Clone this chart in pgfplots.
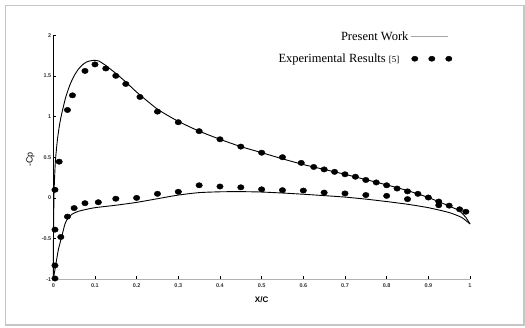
\documentclass[border=0pt]{standalone}
\usepackage{fontspec}
\setmainfont{Liberation Serif}
\setsansfont{Liberation Sans}
\usepackage{pgfplots}
\pgfplotsset{compat=1.18}
\begin{document}
\begin{tikzpicture}[x=1pt,y=1pt]
\useasboundingbox (-53.3pt,-47.7pt) rectangle (471.7pt,279.3pt);
\draw[gray!45, line width=1.5pt] (-48pt,-45.5pt) rectangle (470.5pt,274pt);
\begin{axis}[
  at={(0pt,0pt)}, anchor=south west,
  x=416.7pt, y=81.4pt,
  xmin=0, xmax=1, ymin=-1, ymax=2,
  axis lines=left,
  axis line style={-},
  x axis line style={gray!60, line width=0.9pt},
  y axis line style={black, line width=0.8pt},
  xtick={0,0.1,...,1.0001},
  ytick={-1,-0.5,0,0.5,1,1.5,2},
  tick align=inside,
  major tick length=3pt,
  tick style={black, line width=0.6pt},
  tick label style={font=\sffamily\bfseries\fontsize{5.5}{6}\selectfont, text=black!80},
  /pgf/number format/assume math mode=true,
  xticklabel style={yshift=-0.5pt},
  yticklabel style={xshift=1.5pt},
  xlabel={\textbf{X/C}},
  xlabel style={font=\sffamily\fontsize{8}{9}\selectfont, at={(axis description cs:0.5,-0.085)}, anchor=center},
  ylabel={-Cp},
  ylabel style={font=\sffamily\fontsize{9}{10}\selectfont, at={(axis description cs:-0.055,0.49)}, anchor=center, rotate=0},
  clip=false,
  legend style={at={(rel axis cs:0.965,1.032)}, anchor=north east, draw=none, fill=none,
    font=\fontsize{12.5}{13}\selectfont, row sep=8pt, cells={anchor=east}},
  legend plot pos=right,
]
\addplot[black, line width=0.9pt, smooth, tension=0.35,
  legend image code/.code={\draw[gray!70, line width=0.8pt] (0pt,0pt) -- (37pt,0pt);}]
coordinates {
(0,-1) (0.0005,-0.4) (0.002,0.1) (0.005,0.45) (0.01,0.72) (0.015,0.9) (0.02,1.03)
(0.03,1.24) (0.04,1.39) (0.05,1.50) (0.06,1.58) (0.07,1.635) (0.08,1.67) (0.09,1.685)
(0.10,1.69) (0.11,1.68) (0.125,1.63) (0.15,1.53) (0.175,1.42) (0.2,1.30) (0.25,1.09)
(0.3,0.94) (0.35,0.82) (0.4,0.72) (0.45,0.63) (0.5,0.556) (0.55,0.48) (0.6,0.41)
(0.65,0.35) (0.7,0.29) (0.75,0.225) (0.8,0.16) (0.85,0.09) (0.9,0.005) (0.95,-0.1)
(0.975,-0.16) (0.99,-0.24) (1.0,-0.32)
};
\addlegendentry{Present Work}
\addplot[only marks, mark=*, mark size=2.7pt, mark options={xscale=1.2, fill=black},
  legend image code/.code={\fill[black] (4pt,0pt) ellipse (3.2pt and 2.6pt); \fill[black] (21pt,0pt) ellipse (3.2pt and 2.6pt); \fill[black] (38pt,0pt) ellipse (3.2pt and 2.6pt);}]
coordinates {
(0.004,0.1) (0.014,0.445) (0.034,1.08) (0.046,1.26) (0.076,1.56) (0.10,1.64)
(0.126,1.59) (0.15,1.50) (0.174,1.40) (0.208,1.24) (0.25,1.06) (0.30,0.93)
(0.35,0.82) (0.40,0.72) (0.45,0.63) (0.50,0.555) (0.55,0.50) (0.595,0.43)
(0.625,0.38) (0.65,0.35) (0.675,0.32) (0.70,0.29) (0.725,0.26) (0.75,0.22)
(0.775,0.19) (0.80,0.155) (0.825,0.115) (0.85,0.08) (0.875,0.05) (0.90,0.005)
(0.925,-0.045) (0.925,-0.09) (0.95,-0.095) (0.975,-0.14) (0.99,-0.17)
(0.004,-0.39) (0.004,-0.83) (0.004,-0.99) (0.018,-0.48) (0.034,-0.23) (0.05,-0.125)
(0.076,-0.065) (0.108,-0.053) (0.15,-0.01) (0.20,0.0) (0.25,0.05) (0.30,0.075)
(0.35,0.155) (0.40,0.14) (0.45,0.13) (0.50,0.105) (0.55,0.095) (0.60,0.09)
(0.65,0.065) (0.70,0.055) (0.75,0.035) (0.80,0.025) (0.85,-0.015)
};
\addlegendentry{Experimental Results {\fontsize{9}{10}\selectfont[5]}\rule{9pt}{0pt}}
\addplot[black, line width=0.9pt, smooth, tension=0.35, forget plot]
coordinates {
(0,-1) (0.005,-0.85) (0.012,-0.64) (0.02,-0.48) (0.028,-0.32) (0.035,-0.25)
(0.045,-0.2) (0.06,-0.165) (0.08,-0.14) (0.1,-0.12) (0.15,-0.09) (0.2,-0.055)
(0.25,-0.01) (0.3,0.035) (0.35,0.065) (0.4,0.075) (0.45,0.077) (0.5,0.072)
(0.55,0.06) (0.6,0.045) (0.65,0.028) (0.7,0.01) (0.75,-0.015) (0.8,-0.045)
(0.85,-0.078) (0.9,-0.12) (0.95,-0.18) (0.98,-0.24) (1.0,-0.32)
};
\end{axis}
\end{tikzpicture}
\end{document}
